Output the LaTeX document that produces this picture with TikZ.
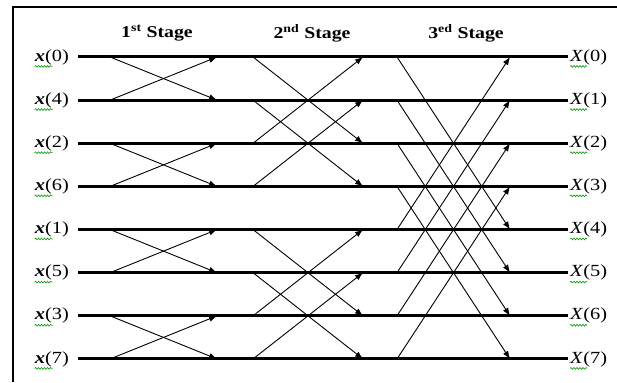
\documentclass[tikz,border=0pt]{standalone}
\usepackage{fontspec}
\setmainfont{Liberation Serif}[FakeStretch=1.2]
\usetikzlibrary{arrows.meta,decorations.pathmorphing}

\tikzset{
  bus/.style={line width=3pt},
  fly/.style={line width=0.9pt,-{Latex[length=8pt,width=6pt]}},
  lab/.style={inner sep=0pt,font=\fontsize{17}{20}\selectfont},
  title/.style={lab,font=\fontsize{16.5}{20}\selectfont\bfseries},
  squiggle/.style={draw=green!60!black,line width=0.6pt,decorate,
    decoration={snake,amplitude=0.9pt,segment length=3pt}},
}

\begin{document}
\begin{tikzpicture}[x=1pt,y=-1pt]
    \useasboundingbox (0,0) rectangle (617,382);
    % frame
    \draw[line width=2.5pt] (13,382) -- (13,7) -- (617,7);

    % stage titles
    \node[title] (st1) at (157,33) {1\textsuperscript{st} Stage};
    \node[title] (st2) at (312,33) {2\textsuperscript{nd} Stage};
    \node[title] (st3) at (466,33) {3\textsuperscript{ed} Stage};

    % rows
    \foreach \i/\k in {0/0,1/4,2/2,3/6,4/1,5/5,6/3,7/7}{
        \pgfmathsetmacro\yy{57+43.14*\i}
        \node[lab,anchor=east] (in\i) at (69,\yy) {\textbf{\textit{x}}(\k)};
        \node[lab,anchor=west] (out\i) at (570,\yy) {\textit{X}(\i)};
        \draw[bus] ([xshift=9pt]in\i.east) -- ([xshift=-2pt]out\i.west);
        \draw[squiggle] ([yshift=-1.5pt]in\i.south west) -- ++(18,0);
        \draw[squiggle] ([yshift=-1.5pt]out\i.south west) -- ++(17,0);
        \foreach \s/\xa/\xb in {1/110/217,2/253/363,3/397/510}{
            \coordinate (a\s-\i) at (\xa,\yy);
            \coordinate (b\s-\i) at (\xb,\yy);
        }
    }

    % butterflies
    \foreach \i/\j in {0/1,1/0,2/3,3/2,4/5,5/4,6/7,7/6}
        \draw[fly] (a1-\i) -- (b1-\j);
    \foreach \i/\j in {0/2,1/3,2/0,3/1,4/6,5/7,6/4,7/5}
        \draw[fly] (a2-\i) -- (b2-\j);
    \foreach \i/\j in {0/4,1/5,2/6,3/7,4/0,5/1,6/2,7/3}
        \draw[fly] (a3-\i) -- (b3-\j);
\end{tikzpicture}
\end{document}
